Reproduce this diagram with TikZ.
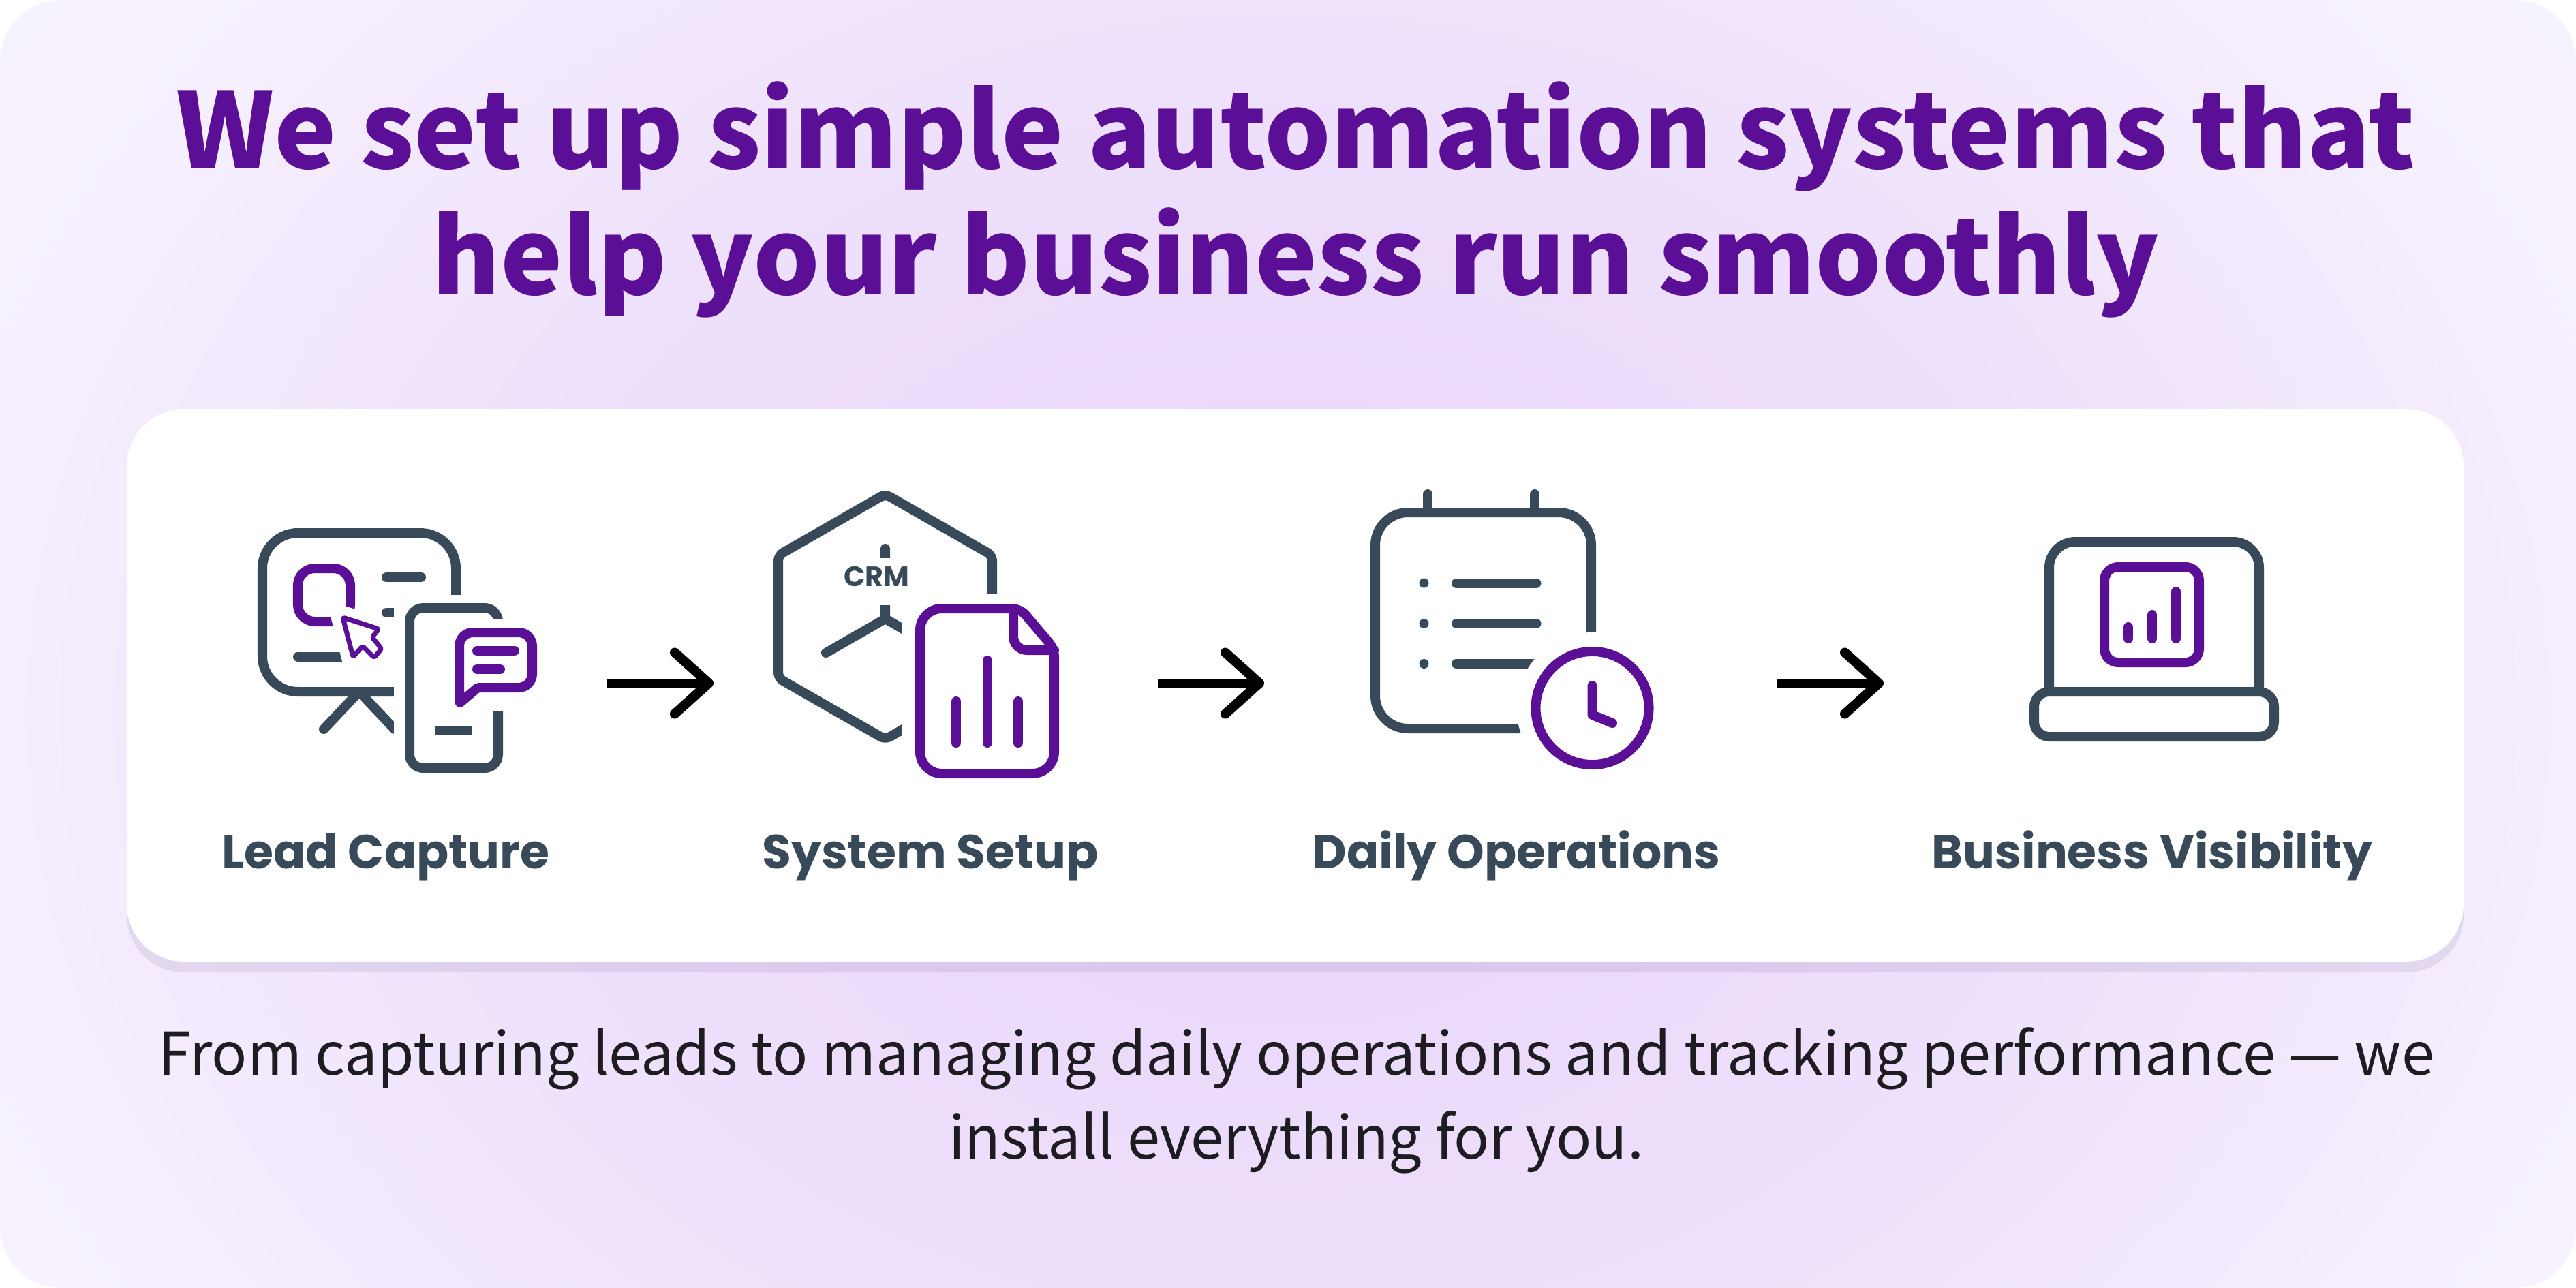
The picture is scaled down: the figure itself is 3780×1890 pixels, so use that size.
\documentclass[tikz,border=0pt]{standalone}
\usepackage{fontspec}
\usepackage{xcolor}
\usetikzlibrary{arrows.meta, positioning}
\setmainfont{Noto Sans CJK SC}
\newfontfamily\labelfont{Poppins}[BoldFont={Poppins Bold}]
\definecolor{titlepurple}{HTML}{5A0F96}
\definecolor{iconslate}{HTML}{384A5A}
\definecolor{bodyink}{HTML}{1D1C20}
\definecolor{glowmid}{HTML}{E7D2FA}
\definecolor{glowhalf}{HTML}{EFE2FC}
\definecolor{glowedge}{HTML}{F7F2FE}
\definecolor{glowfar}{HTML}{F9F5FF}
\definecolor{cardshadow}{HTML}{3C1E5F}
\pgfdeclareradialshading{bgglow}{\pgfpoint{0bp}{0bp}}{color(0bp)=(glowmid); color(15bp)=(glowhalf); color(25bp)=(glowedge); color(35bp)=(glowfar); color(50bp)=(glowfar)}
\tikzset{
    iconline/.style={iconslate, line width=.14cm, line cap=round, line join=round},
    accentline/.style={titlepurple, line width=.14cm, line cap=round, line join=round},
    iconbox/.style={inner sep=0pt, outer sep=0pt, minimum height=1cm},
    steplabel/.style={iconslate, anchor=base, font=\labelfont\bfseries\fontsize{19.8pt}{24pt}\selectfont},
    flowarrow/.style={black, line width=.14cm, -{Straight Barb[length=.5cm, width=.9cm, round]}}
}

\begin{document}
\begin{tikzpicture}[x=0.01cm, y=-0.01cm]
    \useasboundingbox (0,0) rectangle (3780,1890);

    % Background
    \begin{scope}
        \clip[rounded corners=.9cm] (0,0) rectangle (3780,1890);
        \shade[shading=bgglow] (-200,-600) rectangle (3980,2690);
    \end{scope}

    % Heading
    \node[titlepurple, anchor=base, align=center, font=\bfseries\fontsize{43.75pt}{52.35pt}\selectfont] (heading) at (1901,432)
        {We set up simple automation systems that\\help your business run smoothly};

    % Card
    \fill[cardshadow, opacity=.09, rounded corners=.84cm] (186,616) rectangle (3615,1427);
    \fill[white, rounded corners=.84cm] (186,600) rectangle (3615,1411);

    % Lead capture icon
    \draw[iconline, rounded corners=.52cm] (385,782) rectangle (669,1015);
    \draw[iconline] (475,1070) -- (527,1015) -- (579,1070);
    \draw[iconline] (567,847) -- (618,847);
    \draw[iconline] (567,899) -- (600,899);
    \draw[iconline] (437,963.5) -- (520,963.5);
    \draw[accentline, rounded corners=.25cm] (437,834) rectangle (514,912);
    \draw[white, fill=white, line width=.34cm, line join=miter] (503,906) -- (556,923) -- (546,935) -- (560,952) -- (549,965) -- (532,948) -- (518,964) -- cycle;
    \draw[titlepurple, fill=white, line width=.07cm, line join=round, rounded corners=.03cm] (503,906) -- (556,923) -- (546,935) -- (560,952) -- (549,965) -- (532,948) -- (518,964) -- cycle;
    \fill[white] (578,873) rectangle (760,1150);
    \draw[iconline, rounded corners=.2cm] (601,892) rectangle (731,1127);
    \draw[iconline, line cap=butt] (639,1072) -- (693,1072);
    \fill[white] (655,908) rectangle (800,1043);
    \draw[accentline] (701,1009) [rounded corners=.2cm] -- (781,1009) -- (781,928) -- (674,928) [rounded corners=.03cm] -- (674,1032) -- cycle;
    \draw[accentline] (700,955) -- (755,955);
    \draw[accentline] (700,982) -- (734,982);

    % System setup icon
    \draw[iconline, rounded corners=.08cm] (1299,725) -- (1456,815) -- (1456,995) -- (1299,1085) -- (1142,995) -- (1142,815) -- cycle;
    \draw[iconline] (1299,805) -- (1299,908) -- (1212,958);
    \draw[iconline] (1299,908) -- (1386,958);
    \fill[white] (1221,819) rectangle (1378,888);
    \node[iconslate, font=\labelfont\bfseries\fontsize{11.7pt}{14pt}\selectfont] (crmtag) at (1286,846) {CRM};
    \fill[white] (1323,872) rectangle (1570,1160);
    \draw[accentline, rounded corners=.32cm] (1430,893) -- (1350,893) -- (1350,1135) -- (1547,1135) -- (1547,1000);
    \draw[accentline, rounded corners=.12cm] (1430,893) -- (1497,893) -- (1547,952) -- (1547,1000);
    \draw[accentline, rounded corners=.2cm] (1487,893) -- (1487,954) -- (1547,954);
    \foreach \x/\top in {1403/1029,1448.5/969,1494/1029} {
        \draw[accentline] (\x,\top) -- (\x,1090);
    }

    % Daily operations icon
    \draw[iconline, rounded corners=.48cm] (2018,752) rectangle (2335,1069);
    \foreach \x in {2095,2252} {
        \draw[iconline] (\x,725) -- (\x,752);
    }
    \foreach \y in {855.5,915,974} {
        \fill[iconslate] (2089.5,\y) circle (.07cm);
        \draw[iconline] (2137,\y) -- (2254.5,\y);
    }
    \fill[white] (2336.5,1039) circle (1.11cm);
    \draw[accentline] (2336.5,1039) circle (.83cm);
    \draw[accentline] (2336.5,1006) -- (2336.5,1049) -- (2366,1061);

    % Business visibility icon
    \draw[iconline, rounded corners=.38cm] (3007,1008) -- (3007,795) -- (3315,795) -- (3315,1008);
    \draw[iconline, rounded corners=.22cm] (2985,1015) rectangle (3337,1081);
    \draw[accentline, rounded corners=.2cm] (3088,832) rectangle (3227,972);
    \foreach \x/\top in {3123/920,3158/902,3193/868} {
        \draw[accentline] (\x,\top) -- (\x,937);
    }

    % Flow
    \foreach \name/\xa/\xb in {leadicon/378/890,setupicon/1047/1699,opsicon/1855/2608,visicon/2764/3344} {
        \node[iconbox, minimum width={(\xb-\xa)*0.01cm}] (\name) at ({(\xa+\xb)/2},1002.5) {};
    }
    \draw[flowarrow] (leadicon.east) -- (setupicon.west);
    \draw[flowarrow] (setupicon.east) -- (opsicon.west);
    \draw[flowarrow] (opsicon.east) -- (visicon.west);

    % Step labels
    \node[steplabel] (leadlabel) at (566,1274) {Lead Capture};
    \node[steplabel] (setuplabel) at (1365,1274) {System Setup};
    \node[steplabel] (opslabel) at (2225,1274) {Daily Operations};
    \node[steplabel] (vislabel) at (3158,1274) {Business Visibility};

    % Closing line
    \node[bodyink, anchor=base, align=center, font=\fontsize{24.57pt}{34.7pt}\selectfont] (closing) at (1902,1700)
        {From capturing leads to managing daily operations and tracking performance — we\\install everything for you.};
\end{tikzpicture}
\end{document}
